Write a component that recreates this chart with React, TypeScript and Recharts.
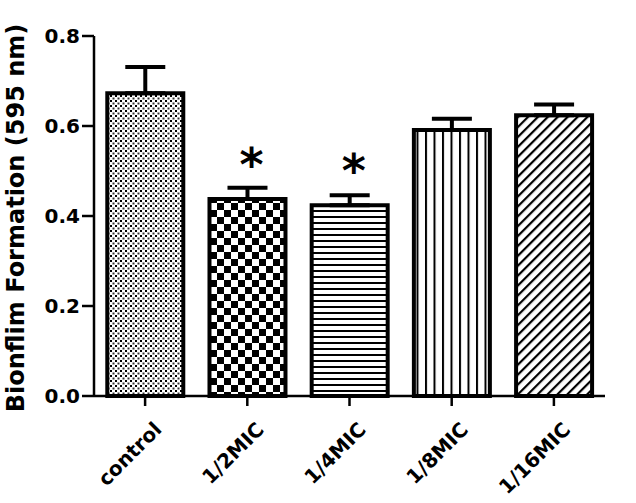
import { BarChart, Bar, XAxis, YAxis, Cell, ErrorBar, LabelList } from 'recharts'

const groups = ['control', '1/2MIC', '1/4MIC', '1/8MIC', '1/16MIC']
const means = [0.673, 0.438, 0.424, 0.591, 0.624]
const sem = [0.058, 0.025, 0.022, 0.025, 0.024]
const marks = ['', '*', '*', '', '']
const yTicks = [0, 0.2, 0.4, 0.6, 0.8]
const fills = ['url(#dots)', 'url(#checker)', 'url(#hlines)', 'url(#vlines)', 'url(#diag)']

const rows = groups.map((g, i) => ({ group: g, value: means[i], err: [0, sem[i]], mark: marks[i] }))

const FONT = '"DejaVu Sans", sans-serif'

function XTick({ x, y, payload }: any) {
  return (
    <text
      x={x + 7}
      y={y + 12}
      transform={`rotate(-45 ${x + 7} ${y + 12})`}
      textAnchor="end"
      dominantBaseline="hanging"
      fontFamily={FONT}
      fontWeight="bold"
      fontSize={20}
      fill="#000"
    >
      {payload.value}
    </text>
  )
}

function Star({ x, y, width, value }: any) {
  if (!value) return null
  return (
    <text x={x + width / 2 + 4} y={y - 18} textAnchor="middle" fontFamily={FONT} fontWeight="bold" fontSize={46} fill="#000">
      {value}
    </text>
  )
}

function YTitle({ viewBox }: any) {
  const cy = viewBox.y + viewBox.height / 2 + 2
  return (
    <text
      x={16}
      y={cy}
      transform={`rotate(-90 16 ${cy})`}
      textAnchor="middle"
      dominantBaseline="central"
      fontFamily={FONT}
      fontWeight="bold"
      fontSize={24}
      fill="#000"
    >
      Bionflim Formation (595 nm)
    </text>
  )
}

export default function App() {
  return (
    <div style={{ position: 'absolute', left: 0, top: 0, background: '#fff' }}>
      <BarChart
        width={636}
        height={503}
        data={rows}
        margin={{ top: 36, right: 31, left: 0, bottom: 0 }}
        barCategoryGap="13%"
      >
        <defs>
          <pattern id="dots" width="5" height="5" patternUnits="userSpaceOnUse">
            <rect width="5" height="5" fill="#fff" />
            <rect x="0" y="0" width="2" height="2" fill="#000" />
            <rect x="2.5" y="2.5" width="2" height="2" fill="#333" />
          </pattern>
          <pattern id="checker" width="14" height="14" patternUnits="userSpaceOnUse">
            <rect width="14" height="14" fill="#fff" />
            <rect x="0" y="0" width="7" height="7" fill="#000" />
            <rect x="7" y="7" width="7" height="7" fill="#000" />
          </pattern>
          <pattern id="hlines" width="6" height="6" patternUnits="userSpaceOnUse">
            <rect width="6" height="6" fill="#fff" />
            <rect x="0" y="0" width="6" height="2" fill="#000" />
          </pattern>
          <pattern id="vlines" width="8.5" height="8" patternUnits="userSpaceOnUse">
            <rect width="8.5" height="8" fill="#fff" />
            <rect x="0" y="0" width="2" height="8" fill="#000" />
          </pattern>
          <pattern id="diag" width="7" height="7" patternUnits="userSpaceOnUse" patternTransform="rotate(45)">
            <rect width="7" height="7" fill="#fff" />
            <rect x="0" y="0" width="2.2" height="7" fill="#000" />
          </pattern>
        </defs>
        <XAxis
          dataKey="group"
          height={107}
          interval={0}
          axisLine={{ stroke: '#000', strokeWidth: 2.5 }}
          tickLine={{ stroke: '#000', strokeWidth: 2.5 }}
          tickSize={10}
          tick={<XTick />}
        />
        <YAxis
          width={94}
          domain={[0, 0.8]}
          ticks={yTicks}
          interval={0}
          tickFormatter={(v: number) => v.toFixed(1)}
          axisLine={{ stroke: '#000', strokeWidth: 2.5 }}
          tickLine={{ stroke: '#000', strokeWidth: 2.5 }}
          tickSize={12}
          tick={{ fill: '#000', fontFamily: FONT, fontWeight: 'bold', fontSize: 20 }}
          label={<YTitle />}
        />
        <Bar dataKey="value" stroke="#000" strokeWidth={4} isAnimationActive={false}>
          {rows.map((r, i) => (
            <Cell key={r.group} fill={fills[i]} />
          ))}
          <ErrorBar dataKey="err" direction="y" width={20} stroke="#000" strokeWidth={4} />
          <LabelList dataKey="mark" content={<Star />} />
        </Bar>
      </BarChart>
    </div>
  )
}
